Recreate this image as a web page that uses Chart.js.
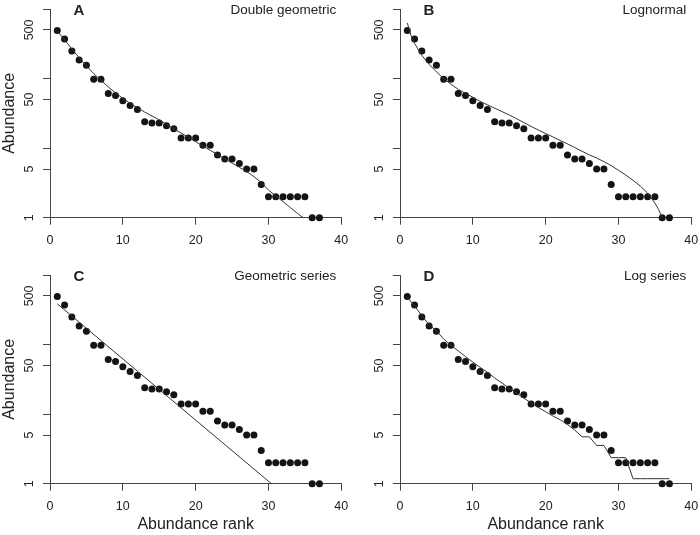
<!DOCTYPE html>
<html lang="en">
<head>
    <meta charset="UTF-8">
    <title>Rank abundance fits</title>
    <script src="https://cdn.jsdelivr.net/npm/chart.js"></script>
    <style>
        body { margin: 0; background: white; }
        .panel { position: absolute; }
        #pA { left: 0; top: 0; }
        #pB { left: 350px; top: 0; }
        #pC { left: 0; top: 250px; }
        #pD { left: 350px; top: 250px; }
    </style>
</head>
<body>
<div class="panel" id="pA"><canvas id="chartA" width="350" height="250"></canvas></div>
<div class="panel" id="pB"><canvas id="chartB" width="350" height="250"></canvas></div>
<div class="panel" id="pC"><canvas id="chartC" width="350" height="285"></canvas></div>
<div class="panel" id="pD"><canvas id="chartD" width="350" height="285"></canvas></div>

<script>
    // observed abundances by rank
    const ranks = [1, 2, 3, 4, 5, 6, 7, 8, 9, 10, 11, 12, 13, 14, 15, 16, 17, 18, 19, 20,
        21, 22, 23, 24, 25, 26, 27, 28, 29, 30, 31, 32, 33, 34, 35, 36, 37];
    const abundance = [490, 370, 250, 185, 155, 98, 98, 61, 57, 48, 41, 36, 24, 23, 23, 21, 19, 14, 14, 14,
        11, 11, 8, 7, 7, 6, 5, 5, 3, 2, 2, 2, 2, 2, 2, 1, 1];

    // fitted models
    const dgRank = [1, 2, 3, 4, 5, 6, 7, 8, 9, 10, 11, 12, 13, 14, 15, 16, 17, 18, 19, 20,
        21, 22, 23, 24, 25, 26, 27, 28, 29, 30, 31, 32, 33, 34, 34.75];
    const dgFit = [480, 360, 265, 200, 152, 118, 94, 76, 62, 52, 44, 38, 33, 29, 25.5, 22, 19, 16.5, 14.3, 12.4,
        10.7, 9.3, 8.1, 7.0, 6.1, 5.3, 4.6, 3.9, 3.2, 2.5, 2.05, 1.7, 1.4, 1.15, 1.0];

    const lnRank = [1, 1.5, 2, 3, 4, 5, 6, 7, 8, 9, 10, 11, 12, 13, 14, 15, 16, 17, 18, 19, 20,
        21, 22, 23, 24, 25, 26, 27, 28, 29, 30, 31, 32, 33, 34, 35, 35.5, 36];
    const lnFit = [630, 420, 320, 215, 160, 125, 100, 83, 70, 61, 54, 47, 42, 37.5, 33.5, 30, 26.5, 23.3, 20.5, 18.2, 16.2,
        14.5, 12.9, 11.5, 10.2, 9.0, 8.0, 7.2, 6.4, 5.6, 4.8, 4.1, 3.45, 2.85, 2.25, 1.62, 1.32, 1.0];

    const gsRank = [1, 30.4];
    const gsFit = [385, 1];

    const lsRank = [1, 2, 3, 4, 5, 6, 7, 8, 9, 10, 11, 12, 13, 14, 15, 16, 17, 18, 19, 20,
        21, 22, 23, 24, 25, 26, 27, 28, 29, 30, 31, 32, 33, 34, 35, 36, 37];
    const lsFit = [475, 360, 260, 192, 158, 120, 97, 81, 67, 56, 47, 40, 33, 28, 23.5, 20, 17, 14.5, 12.5, 10.8,
        9.4, 8.3, 7.1, 5.9, 4.72, 4.72, 3.55, 3.55, 2.37, 2.37, 2.37, 1.18, 1.18, 1.18, 1.18, 1.18, 1.18];

    const xTicks = [0, 10, 20, 30, 40];
    const yTicks = [1, 5, 10, 50, 100, 500, 1000];
    const yTickLabels = [1, 5, 50, 500];

    const FONT = '"Liberation Sans", Arial, Helvetica, sans-serif';
    const AXIS = '#444';

    const panelText = {
        id: 'panelText',
        afterDraw(chart, args, opts) {
            const { ctx, chartArea } = chart;
            const x = chart.scales.x, y = chart.scales.y;
            ctx.save();
            ctx.fillStyle = '#222';
            ctx.font = '12.5px ' + FONT;
            ctx.textAlign = 'center';
            ctx.textBaseline = 'middle';
            xTicks.forEach(v => ctx.fillText(String(v), x.getPixelForValue(v), chartArea.bottom + 22.5));
            yTickLabels.forEach(v => {
                ctx.save();
                ctx.translate(chartArea.left - 20, y.getPixelForValue(v));
                ctx.rotate(-Math.PI / 2);
                ctx.fillText(String(v), 0, 0);
                ctx.restore();
            });

            ctx.textBaseline = 'alphabetic';
            ctx.font = 'bold 15px ' + FONT;
            ctx.fillText(opts.letter, chartArea.left + 29, chartArea.top + 6);
            ctx.font = '13.5px ' + FONT;
            ctx.textAlign = 'right';
            ctx.fillText(opts.model, chartArea.right - 5, chartArea.top + 4.5);

            ctx.font = '16px ' + FONT;
            ctx.textAlign = 'center';
            ctx.textBaseline = 'middle';
            if (opts.yTitle) {
                ctx.save();
                ctx.translate(chartArea.left - 40, (chartArea.top + chartArea.bottom) / 2);
                ctx.rotate(-Math.PI / 2);
                ctx.fillText('Abundance', 0, 0);
                ctx.restore();
            }
            if (opts.xTitle) {
                ctx.fillText('Abundance rank', (chartArea.left + chartArea.right) / 2, chartArea.bottom + 41);
            }
            ctx.restore();
        }
    };

    function makePanel(id, letter, model, fitX, fitY, top) {
        const canvas = document.getElementById(id);
        const h = canvas.height;
        const padTop = top ? 9 : 25;
        const axisH = h - padTop - 208.7;
        new Chart(canvas, {
            type: 'scatter',
            data: {
                datasets: [
                    {
                        data: fitX.map((r, i) => ({ x: r, y: fitY[i] })),
                        showLine: true,
                        borderColor: '#333',
                        borderWidth: 1,
                        pointRadius: 0,
                        tension: 0,
                        clip: false
                    },
                    {
                        data: ranks.map((r, i) => ({ x: r, y: abundance[i] })),
                        backgroundColor: '#141414',
                        borderWidth: 0,
                        pointRadius: 3.5,
                        clip: false
                    }
                ]
            },
            options: {
                responsive: false,
                animation: false,
                layout: { padding: { left: 0, top: padTop, right: 8.7, bottom: 0 } },
                plugins: {
                    legend: { display: false },
                    tooltip: { enabled: false },
                    panelText: { letter, model, yTitle: letter === 'A' || letter === 'C', xTitle: !top }
                },
                scales: {
                    x: {
                        type: 'linear', min: 0, max: 40,
                        afterBuildTicks: s => { s.ticks = xTicks.map(v => ({ value: v })); },
                        afterFit: s => { s.height = axisH; },
                        ticks: { display: false },
                        grid: { drawOnChartArea: false, drawTicks: true, tickLength: 7, color: AXIS },
                        border: { display: true, color: AXIS, width: 1 }
                    },
                    y: {
                        type: 'logarithmic', min: 1, max: 1000,
                        afterBuildTicks: s => { s.ticks = yTicks.map(v => ({ value: v })); },
                        afterFit: s => { s.width = 50; },
                        ticks: { display: false },
                        grid: { drawOnChartArea: false, drawTicks: true, tickLength: 7, color: AXIS },
                        border: { display: true, color: AXIS, width: 1 }
                    }
                }
            },
            plugins: [panelText]
        });
    }

    makePanel('chartA', 'A', 'Double geometric', dgRank, dgFit, true);
    makePanel('chartB', 'B', 'Lognormal', lnRank, lnFit, true);
    makePanel('chartC', 'C', 'Geometric series', gsRank, gsFit, false);
    makePanel('chartD', 'D', 'Log series', lsRank, lsFit, false);
</script>
</body>
</html>
